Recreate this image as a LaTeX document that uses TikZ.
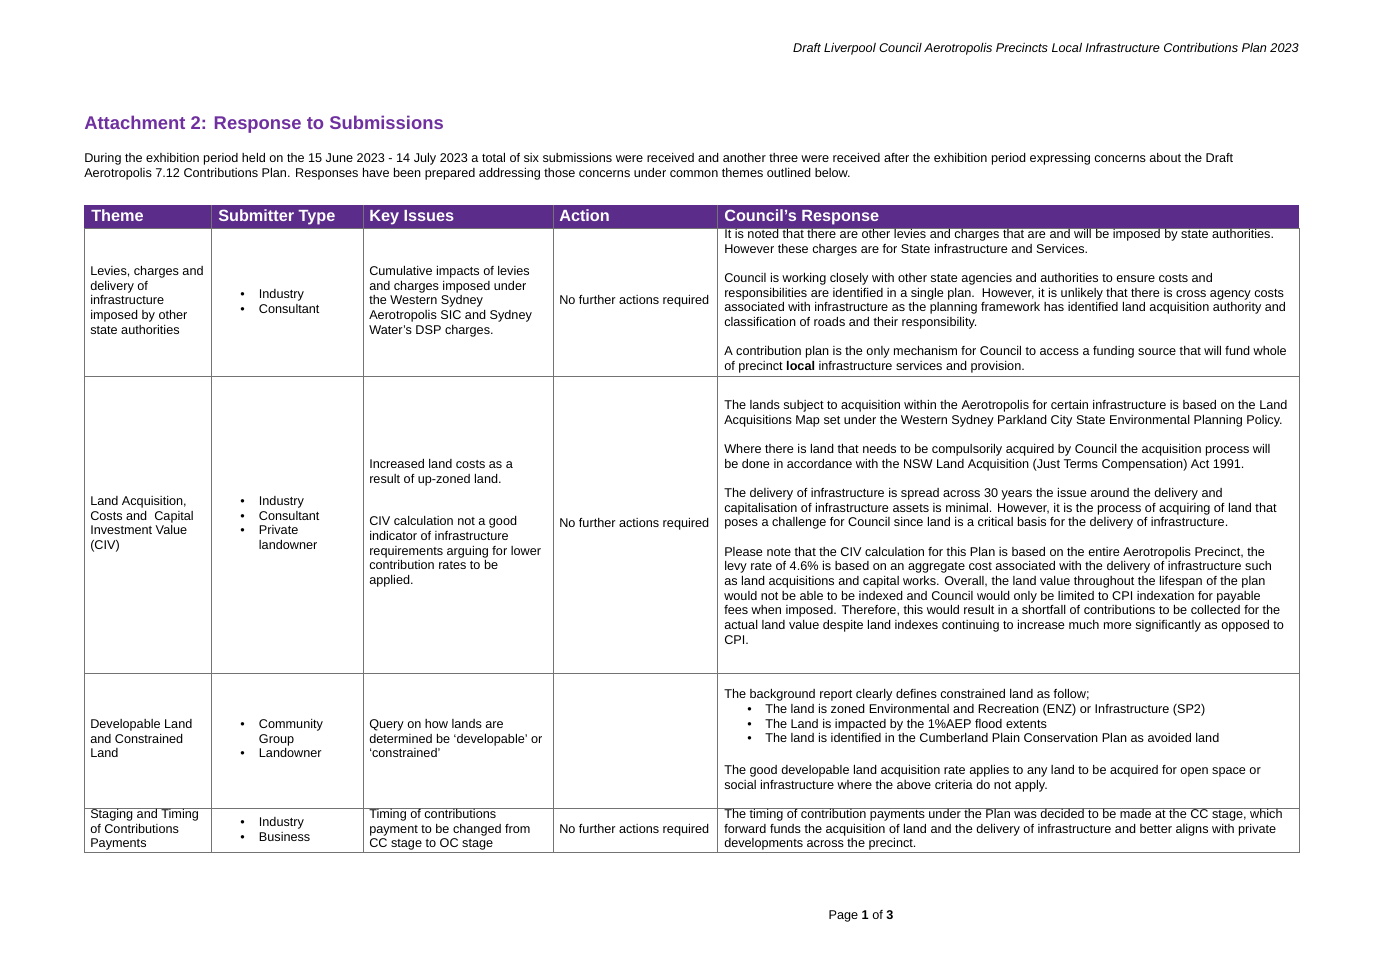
\documentclass[tikz,border=0pt]{standalone}
\usepackage{fontspec}
\setmainfont{Liberation Sans}
\definecolor{hdr}{HTML}{5B2C8A}
\definecolor{ttl}{HTML}{7030A0}
\newcommand{\bul}{\makebox[14pt][l]{•}}
\newcommand{\bulind}{\hspace*{14pt}}
\begin{document}
\begin{tikzpicture}[x=0.75pt,y=-0.75pt,
  tx/.style={anchor=north west,inner sep=0pt,align=left,font=\fontsize{9.5}{11}\selectfont},
  hd/.style={anchor=base west,inner sep=0pt,text=white,font=\fontsize{12.2}{13}\selectfont\bfseries},
  grid/.style={draw=black!55,line width=0.5pt}]
\useasboundingbox[fill=white] (0,0) rectangle (1382,977);
\node[tx,anchor=east,font=\fontsize{9.5}{11}\selectfont\itshape] (hdrtxt) at (1299,49) {Draft Liverpool Council Aerotropolis Precincts Local Infrastructure Contributions Plan 2023};
\node[anchor=west,inner sep=0pt,text=ttl,font=\fontsize{13.8}{15}\selectfont\bfseries] (title) at (84,125) {Attachment 2: Response to Submissions};
\node[tx] (intro) at (84,153) {During the exhibition period held on the 15 June 2023 - 14 July 2023 a total of six submissions were received and another three were received after the exhibition period expressing concerns about the Draft\\Aerotropolis 7.12 Contributions Plan. Responses have been prepared addressing those concerns under common themes outlined below.};
% header
\fill[hdr] (84,205) rectangle (1299,228);
\foreach \x/\t/\n in {91/Theme/h1,218/Submitter Type/h2,369/Key Issues/h3,559/Action/h4,724/Council’s Response/h5}
  \node[hd] (\n) at (\x,222) {\t};
% grid
\draw[grid] (84,228) rectangle (1299,852);
\foreach \yy in {376,673,808} \draw[grid] (84,\yy) -- (1299,\yy);
\foreach \xx in {211,363,553,717} \draw[grid] (\xx,205) -- (\xx,852);
% row 1
\node[tx] (r1a) at (90,266) {Levies, charges and\\delivery of\\infrastructure\\imposed by other\\state authorities};
\node[tx] (r1b) at (240,289) {\bul Industry\\\bul Consultant};
\node[tx] (r1c) at (369,266) {Cumulative impacts of levies\\and charges imposed under\\the Western Sydney\\Aerotropolis SIC and Sydney\\Water’s DSP charges.};
\node[tx] (r1d) at (559,295) {No further actions required};
\node[tx] (r1e) at (724,229) {It is noted that there are other levies and charges that are and will be imposed by state authorities.\\However these charges are for State infrastructure and Services.\\[11pt]Council is working closely with other state agencies and authorities to ensure costs and\\responsibilities are identified in a single plan.\ \ However, it is unlikely that there is cross agency costs\\associated with infrastructure as the planning framework has identified land acquisition authority and\\classification of roads and their responsibility.\\[11pt]A contribution plan is the only mechanism for Council to access a funding source that will fund whole\\of precinct \textbf{local} infrastructure services and provision.};
% row 2
\node[tx] (r2a) at (90,496) {Land Acquisition,\\Costs and\ \ Capital\\Investment Value\\(CIV)};
\node[tx] (r2b) at (240,496) {\bul Industry\\\bul Consultant\\\bul Private\\\bulind landowner};
\node[tx] (r2c) at (369,459) {Increased land costs as a\\result of up-zoned land.\\[21pt]CIV calculation not a good\\indicator of infrastructure\\requirements arguing for lower\\contribution rates to be\\applied.};
\node[tx] (r2d) at (559,518) {No further actions required};
\node[tx] (r2e) at (724,400) {The lands subject to acquisition within the Aerotropolis for certain infrastructure is based on the Land\\Acquisitions Map set under the Western Sydney Parkland City State Environmental Planning Policy.\\[11pt]Where there is land that needs to be compulsorily acquired by Council the acquisition process will\\be done in accordance with the NSW Land Acquisition (Just Terms Compensation) Act 1991.\\[11pt]The delivery of infrastructure is spread across 30 years the issue around the delivery and\\capitalisation of infrastructure assets is minimal. However, it is the process of acquiring of land that\\poses a challenge for Council since land is a critical basis for the delivery of infrastructure.\\[11pt]Please note that the CIV calculation for this Plan is based on the entire Aerotropolis Precinct, the\\levy rate of 4.6\% is based on an aggregate cost associated with the delivery of infrastructure such\\as land acquisitions and capital works. Overall, the land value throughout the lifespan of the plan\\would not be able to be indexed and Council would only be limited to CPI indexation for payable\\fees when imposed. Therefore, this would result in a shortfall of contributions to be collected for the\\actual land value despite land indexes continuing to increase much more significantly as opposed to\\CPI.};
% row 3
\node[tx] (r3a) at (90,719) {Developable Land\\and Constrained\\Land};
\node[tx] (r3b) at (240,719) {\bul Community\\\bulind Group\\\bul Landowner};
\node[tx] (r3c) at (369,719) {Query on how lands are\\determined be ‘developable’ or\\‘constrained’};
\node[tx] (r3e) at (724,689) {The background report clearly defines constrained land as follow;};
\node[tx] (r3f) at (747,704) {\makebox[13.5pt][l]{•}The land is zoned Environmental and Recreation (ENZ) or Infrastructure (SP2)\\\makebox[13.5pt][l]{•}The Land is impacted by the 1\%AEP flood extents\\\makebox[13.5pt][l]{•}The land is identified in the Cumberland Plain Conservation Plan as avoided land};
\node[tx] (r3g) at (724,765) {The good developable land acquisition rate applies to any land to be acquired for open space or\\social infrastructure where the above criteria do not apply.};
% row 4
\node[tx] (r4a) at (90,809) {Staging and Timing\\of Contributions\\Payments};
\node[tx] (r4b) at (240,817) {\bul Industry\\\bul Business};
\node[tx] (r4c) at (369,809) {Timing of contributions\\payment to be changed from\\CC stage to OC stage};
\node[tx] (r4d) at (559,824) {No further actions required};
\node[tx] (r4e) at (724,809) {The timing of contribution payments under the Plan was decided to be made at the CC stage, which\\forward funds the acquisition of land and the delivery of infrastructure and better aligns with private\\developments across the precinct.};
% footer
\node[inner sep=0pt,font=\fontsize{9.5}{11}\selectfont] (foot) at (861,916) {Page \textbf{1} of \textbf{3}};
\end{tikzpicture}
\end{document}
